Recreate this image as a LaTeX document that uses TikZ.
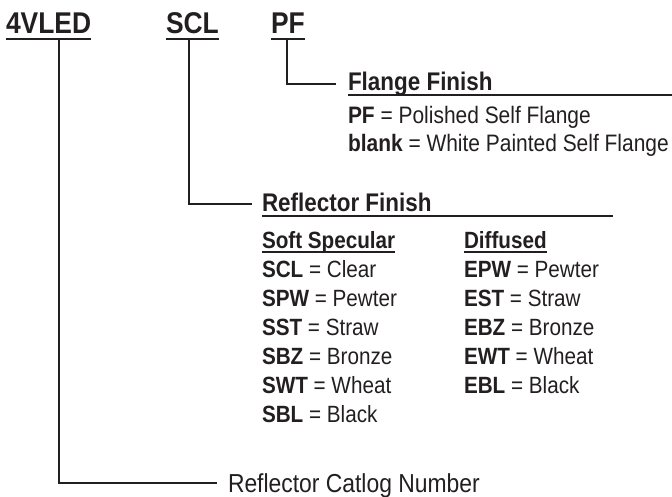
\documentclass[tikz,border=0pt]{standalone}
\usepackage{fontspec}
\setmainfont{Liberation Sans}[FakeStretch=0.88]
\definecolor{ink}{HTML}{231F20}
\begin{document}
\begin{tikzpicture}[x=1pt,y=-1pt,
  txt/.style={inner sep=0pt,outer sep=0pt,anchor=base west,text=ink},
  partno/.style={txt,font=\fontsize{30}{34}\selectfont\bfseries},
  heading/.style={txt,font=\fontsize{25.5}{30}\selectfont\bfseries},
  subhead/.style={txt,font=\fontsize{23.5}{28}\selectfont\bfseries},
  rowtxt/.style={txt,font=\fontsize{23.5}{28}\selectfont},
  flangetxt/.style={txt,font=\fontsize{23.8}{28}\selectfont},
  bottomtxt/.style={txt,font=\fontsize{26}{30}\selectfont},
  conn/.style={draw=ink,line width=2pt},
  uline/.style={draw=ink,line width=1.6pt},
  thinline/.style={draw=ink,line width=1.2pt}]
\useasboundingbox (0,0) rectangle (672,497);

% part numbers
\node[partno] (p1) at (6,34) {4VLED};
\node[partno] (p2) at (166,34) {SCL};
\node[partno] (p3) at (271,34) {PF};
\foreach \n in {p1,p2,p3}
  \draw[uline] ([yshift=-5pt]\n.base west) -- ([yshift=-5pt]\n.base east);

% Flange finish
\node[heading] (ff) at (348,91) {Flange Finish};
\coordinate (ffend) at (672,95);
\draw[thinline] ([yshift=-4pt]ff.base west) -- (ffend);
\node[flangetxt] (ff1) at (348,124) {\textbf{PF} = Polished Self Flange};
\node[flangetxt] (ff2) at (348,152) {\textbf{blank} = White Painted Self Flange};

% Reflector finish
\node[heading] (rf) at (262,212) {Reflector Finish};
\coordinate (rfend) at (613,216);
\draw[thinline] ([yshift=-4pt]rf.base west) -- (rfend);
\node[subhead] (ss) at (262,248) {Soft Specular};
\node[subhead] (df) at (464,248) {Diffused};
\draw[thinline] ([yshift=-4pt]ss.base west) -- ([yshift=-4pt]ss.base east);
\draw[thinline] ([yshift=-4pt]df.base west) -- ([yshift=-4pt]df.base east);

\node[rowtxt] (s1) at (262,277) {\textbf{SCL} = Clear};
\node[rowtxt] (s2) at (262,306) {\textbf{SPW} = Pewter};
\node[rowtxt] (s3) at (262,335) {\textbf{SST} = Straw};
\node[rowtxt] (s4) at (262,364) {\textbf{SBZ} = Bronze};
\node[rowtxt] (s5) at (262,393) {\textbf{SWT} = Wheat};
\node[rowtxt] (s6) at (262,422) {\textbf{SBL} = Black};

\node[rowtxt] (e1) at (464,277) {\textbf{EPW} = Pewter};
\node[rowtxt] (e2) at (464,306) {\textbf{EST} = Straw};
\node[rowtxt] (e3) at (464,335) {\textbf{EBZ} = Bronze};
\node[rowtxt] (e4) at (464,364) {\textbf{EWT} = Wheat};
\node[rowtxt] (e5) at (464,393) {\textbf{EBL} = Black};

% bottom label
\node[bottomtxt] (rc) at (228,492) {Reflector Catlog Number};

% connectors
\coordinate (c1top) at (59,39);
\coordinate (c1end) at (217,483);
\coordinate (c2top) at (189,39);
\coordinate (c2end) at (252,204);
\coordinate (c3top) at (287,39);
\coordinate (c3end) at (336,84);
\draw[conn] (c1top) |- (c1end);
\draw[conn] (c2top) |- (c2end);
\draw[conn] (c3top) |- (c3end);
\end{tikzpicture}
\end{document}
